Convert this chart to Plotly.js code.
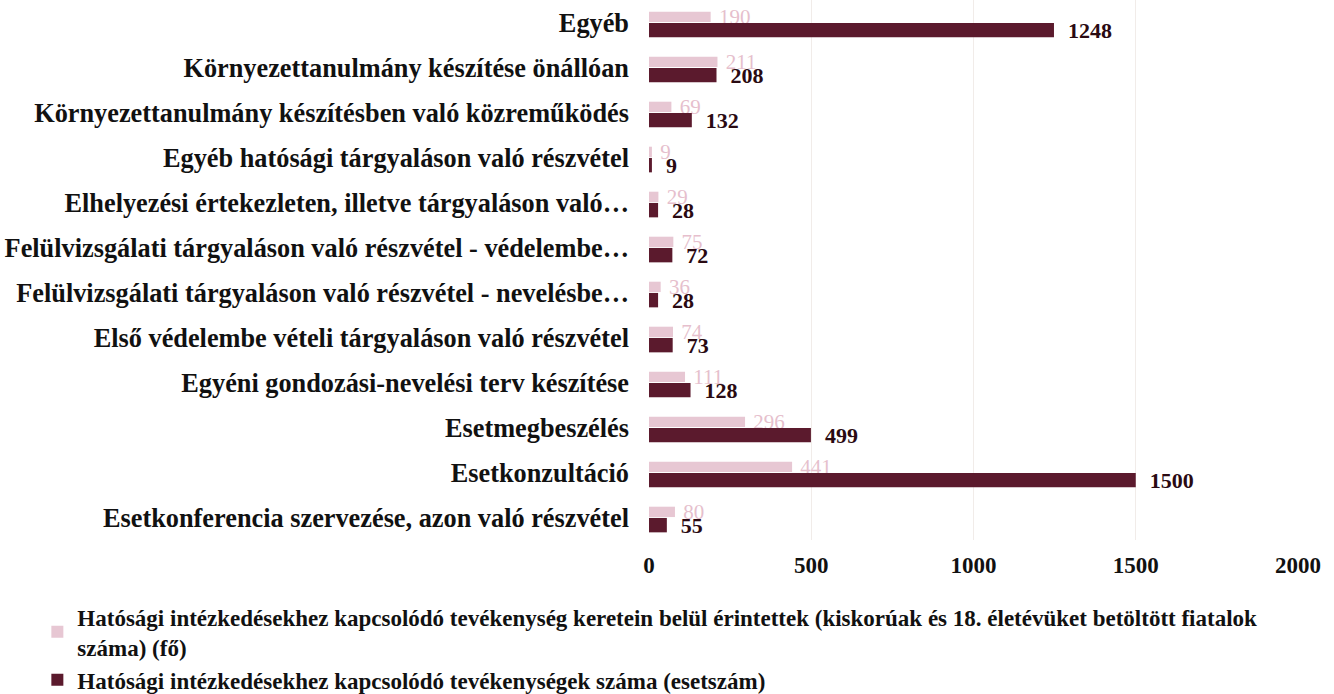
<!DOCTYPE html>
<html>
<head>
<meta charset="utf-8">
<script src="https://cdn.plot.ly/plotly-3.0.1.min.js"></script>
<style>html,body{margin:0;padding:0;background:#fff;}#chart{width:1334px;height:694px;}</style>
</head>
<body>
<div id="chart"></div>
<script>
// categories listed bottom to top (as on the y axis)
const categories = [
  "Esetkonferencia szervezése, azon való részvétel",
  "Esetkonzultáció",
  "Esetmegbeszélés",
  "Egyéni gondozási-nevelési terv készítése",
  "Első védelembe vételi tárgyaláson való részvétel",
  "Felülvizsgálati tárgyaláson való részvétel - nevelésbe…",
  "Felülvizsgálati tárgyaláson való részvétel - védelembe…",
  "Elhelyezési értekezleten, illetve tárgyaláson való…",
  "Egyéb hatósági tárgyaláson való részvétel",
  "Környezettanulmány készítésben való közreműködés",
  "Környezettanulmány készítése önállóan",
  "Egyéb"
];
const erintettek = [80, 441, 296, 111, 74, 36, 75, 29, 9, 69, 211, 190];
const esetszam   = [55, 1500, 499, 128, 73, 28, 72, 28, 9, 132, 208, 1248];
const seriesNames = [
  "Hatósági intézkedésekhez kapcsolódó tevékenység keretein belül érintettek (kiskorúak és 18. életévüket betöltött fiatalok<br>száma) (fő)",
  "Hatósági intézkedésekhez kapcsolódó tevékenységek száma (esetszám)"
];
const xTicks = [0, 500, 1000, 1500, 2000];

const serif = "'Liberation Serif', 'Times New Roman', serif";
const lightCol = "#e7c7d3";
const darkCol = "#5b1a2d";

const traces = [
  {
    type: "bar", orientation: "h",
    y: categories, x: erintettek,
    name: seriesNames[0],
    legendgroup: "a",
    marker: {color: lightCol},
    offset: 0.01, width: 0.23,
    texttemplate: "\u00a0%{x}",
    textposition: "outside",
    constraintext: "none",
    cliponaxis: false,
    textfont: {family: serif, size: 21, color: "#e6bfcd"},
    legendrank: 1,
    hoverinfo: "x+y"
  },
  {
    type: "bar", orientation: "h",
    y: categories, x: esetszam,
    name: seriesNames[1],
    legendgroup: "b",
    marker: {color: darkCol},
    offset: -0.33, width: 0.32,
    texttemplate: "\u00a0\u00a0%{x}",
    textposition: "outside",
    constraintext: "none",
    cliponaxis: false,
    textfont: {family: serif, size: 22, color: "#2a0a12", weight: "bold"},
    legendrank: 2,
    hoverinfo: "x+y"
  }
];

const layout = {
  width: 1334, height: 694,
  paper_bgcolor: "#ffffff", plot_bgcolor: "#ffffff",
  margin: {l: 649, r: 36, t: 0, b: 154, autoexpand: false},
  barmode: "overlay",
  showlegend: true,
  font: {family: serif, color: "#111111"},
  xaxis: {
    range: [0, 2000],
    tickvals: xTicks,
    ticktext: xTicks.map(String),
    tickfont: {family: serif, size: 23, color: "#111111", weight: "bold"},
    showgrid: true, gridcolor: "#f1ece9", gridwidth: 1,
    zeroline: false, showline: false, ticks: "",
    ticklabelstandoff: 9
  },
  yaxis: {
    type: "category",
    tickfont: {family: serif, size: 26.3, color: "#111111", weight: "bold"},
    showgrid: false, zeroline: false, showline: false,
    ticks: "", ticklabelstandoff: 19
  },
  legend: {
    xref: "container", yref: "container",
    x: 0.028, y: 0.142, xanchor: "left", yanchor: "top",
    orientation: "v",
    font: {family: serif, size: 23, color: "#111111", weight: "bold"},
    itemwidth: 30,
    tracegroupgap: 0,
    maxheight: 300,
    bgcolor: "rgba(0,0,0,0)"
  }
};

Plotly.newPlot("chart", traces, layout, {displayModeBar: false, responsive: false});
</script>
</body>
</html>
